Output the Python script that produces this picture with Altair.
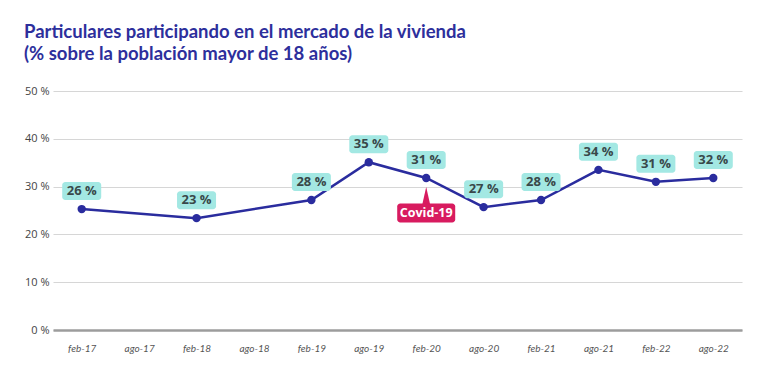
import altair as alt
import pandas as pd

periods = ["feb-17", "ago-17", "feb-18", "ago-18", "feb-19", "ago-19",
           "feb-20", "ago-20", "feb-21", "ago-21", "feb-22", "ago-22"]
point_periods = ["feb-17", "feb-18", "feb-19", "ago-19", "feb-20",
                 "ago-20", "feb-21", "ago-21", "feb-22", "ago-22"]
values = [25.3, 23.4, 27.2, 35.1, 31.8, 25.7, 27.2, 33.5, 31.0, 31.8]
labels = ["26 %", "23 %", "28 %", "35 %", "31 %", "27 %", "28 %", "34 %", "31 %", "32 %"]
covid_period = ["feb-20"]
covid_value = [31.8]
covid_text = ["Covid-19"]

df = pd.DataFrame({"periodo": point_periods, "valor": values, "etiqueta": labels})
cv = pd.DataFrame({"periodo": covid_period, "valor": covid_value, "texto": covid_text})

x_enc = alt.X("periodo:N", sort=periods, scale=alt.Scale(domain=periods, type="point", padding=0.5),
              axis=alt.Axis(title=None, labelAngle=0, ticks=False, grid=False, domain=True,
                            domainColor="#9c9c9c", domainWidth=2.5, labelPadding=13,
                            labelFont="Lato", labelFontStyle="italic", labelFontSize=10,
                            labelColor="#555555"))
y_enc = alt.Y("valor:Q", scale=alt.Scale(domain=[0, 50], nice=False),
              axis=alt.Axis(title=None, values=[0, 10, 20, 30, 40, 50], labelExpr="datum.value + ' %'",
                            ticks=False, domain=False, gridColor="#d6d6d6", gridWidth=1.2,
                            labelFont="Open Sans", labelFontSize=11, labelColor="#444444",
                            labelPadding=4))

base = alt.Chart(df).encode(x=x_enc, y=y_enc)

line = base.mark_line(color="#2a2c9e", strokeWidth=2.5)
pts = base.mark_point(filled=True, color="#2a2c9e", size=70, opacity=1)
boxes = base.mark_rect(width=39, height=18, yOffset=-18, cornerRadius=3, color="#a3e8e3")
texts = base.mark_text(yOffset=-18, font="Open Sans", fontWeight="bold", fontSize=13,
                       color="#39484a").encode(text="etiqueta:N")

cbase = alt.Chart(cv).encode(x=x_enc, y=y_enc)
ctri = cbase.mark_point(shape="M0,-1 L0.45,1 L-0.45,1 Z", filled=True, size=324, opacity=1,
                        color="#d81b5f", yOffset=18)
cbox = cbase.mark_rect(width=58, height=19, yOffset=35, cornerRadius=3, color="#d81b5f")
ctext = cbase.mark_text(yOffset=35, font="Open Sans", fontWeight="bold", fontSize=12.5,
                        color="white").encode(text="texto:N")

chart = alt.layer(line, pts, boxes, texts, ctri, cbox, ctext).properties(
    width=689, height=239,
    background="white",
    autosize=alt.AutoSizeParams(type="none"),
    padding={"left": 45, "top": 83, "right": 18, "bottom": 45},
    title=alt.TitleParams(
        text=["Particulares participando en el mercado de la vivienda",
              "(% sobre la población mayor de 18 años)"],
        anchor="start", frame="group", dx=-29, offset=22, font="Lato", fontSize=18.5,
        fontWeight="bold", color="#2d2f9c", lineHeight=22),
).configure_view(strokeWidth=0)

chart.save("out.html", embed_options={"renderer": "svg", "actions": False})
